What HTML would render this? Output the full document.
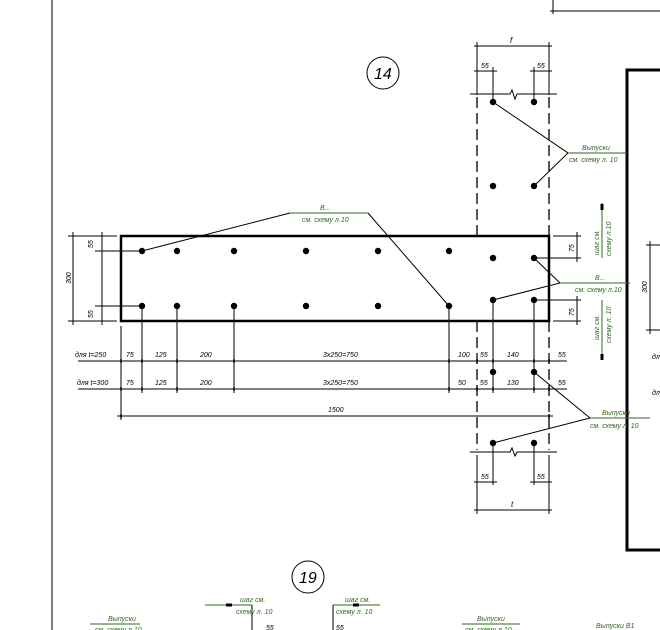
<!DOCTYPE html>
<html><head><meta charset="utf-8"><style>
html,body{margin:0;padding:0;background:#fff;}
svg{display:block;}
text{font-family:"Liberation Sans",sans-serif;font-style:italic;font-size:8px;fill:#000;}
.g{fill:#2e6a1e;}
</style></head><body>
<svg width="660" height="630" viewBox="0 0 660 630" xmlns="http://www.w3.org/2000/svg">
<g stroke="#000" stroke-width="1" fill="none">
<line x1="52" y1="0" x2="52" y2="630"/>
<line x1="553" y1="0" x2="553" y2="14"/>
<line x1="550" y1="11" x2="660" y2="11"/>
<circle cx="383" cy="73" r="16"/>
<circle cx="308" cy="577" r="16"/>
<line x1="474" y1="46" x2="552" y2="46"/>
<line x1="477" y1="42" x2="477" y2="95"/>
<line x1="549" y1="42" x2="549" y2="95"/>
<line x1="474" y1="71" x2="497" y2="71"/>
<line x1="530" y1="71" x2="552" y2="71"/>
<line x1="493" y1="67" x2="493" y2="102"/>
<line x1="534" y1="67" x2="534" y2="102"/>
<polyline points="470,94 510,94 512,90 515,99 517,94 557,94"/>
<polyline points="470,452 510,452 512,448 515,456 517,452 557,452"/>
<line x1="493" y1="443" x2="493" y2="485"/>
<line x1="534" y1="443" x2="534" y2="485"/>
<line x1="474" y1="482" x2="497" y2="482"/>
<line x1="530" y1="482" x2="552" y2="482"/>
<line x1="474" y1="510" x2="552" y2="510"/>
<line x1="477" y1="455" x2="477" y2="514"/>
<line x1="549" y1="455" x2="549" y2="514"/>
</g>
<g stroke="#000" stroke-width="1.3" stroke-dasharray="11,5" fill="none">
<line x1="477" y1="97" x2="477" y2="236"/>
<line x1="549" y1="97" x2="549" y2="236"/>
<line x1="477" y1="321" x2="477" y2="450"/>
<line x1="549" y1="321" x2="549" y2="450"/>
</g>
<polyline points="660,70 627,70 627,550 660,550" stroke="#000" stroke-width="3" fill="none"/>
<rect x="121" y="236" width="428" height="85" stroke="#000" stroke-width="2.5" fill="none"/>
<g fill="#000">
<circle cx="142" cy="251" r="3.2"/><circle cx="177" cy="251" r="3.2"/><circle cx="234" cy="251" r="3.2"/><circle cx="306" cy="251" r="3.2"/><circle cx="378" cy="251" r="3.2"/><circle cx="449" cy="251" r="3.2"/>
<circle cx="493" cy="258" r="3.2"/><circle cx="534" cy="258" r="3.2"/>
<circle cx="142" cy="306" r="3.2"/><circle cx="177" cy="306" r="3.2"/><circle cx="234" cy="306" r="3.2"/><circle cx="306" cy="306" r="3.2"/><circle cx="378" cy="306" r="3.2"/><circle cx="449" cy="306" r="3.2"/>
<circle cx="493" cy="300" r="3.2"/><circle cx="534" cy="300" r="3.2"/>
<circle cx="493" cy="102" r="3.2"/><circle cx="534" cy="102" r="3.2"/><circle cx="493" cy="186" r="3.2"/><circle cx="534" cy="186" r="3.2"/>
<circle cx="493" cy="372" r="3.2"/><circle cx="534" cy="372" r="3.2"/><circle cx="493" cy="443" r="3.2"/><circle cx="534" cy="443" r="3.2"/>
</g>
<g stroke="#000" stroke-width="1" fill="none">
<line x1="73" y1="232" x2="73" y2="325"/>
<line x1="102" y1="232" x2="102" y2="325"/>
<line x1="68" y1="236" x2="117" y2="236"/>
<line x1="68" y1="321" x2="117" y2="321"/>
<line x1="95" y1="251" x2="142" y2="251"/>
<line x1="95" y1="306" x2="142" y2="306"/>
<line x1="78" y1="361" x2="567" y2="361"/>
<line x1="78" y1="389" x2="567" y2="389"/>
<line x1="117" y1="416" x2="553" y2="416"/>
<line x1="121" y1="326" x2="121" y2="420"/>
<line x1="142" y1="306" x2="142" y2="393"/>
<line x1="177" y1="306" x2="177" y2="393"/>
<line x1="234" y1="306" x2="234" y2="393"/>
<line x1="449" y1="306" x2="449" y2="393"/>
<line x1="493" y1="300" x2="493" y2="393"/>
<line x1="534" y1="300" x2="534" y2="393"/>
<line x1="577" y1="232" x2="577" y2="262"/>
<line x1="553" y1="236" x2="581" y2="236"/>
<line x1="534" y1="258" x2="581" y2="258"/>
<line x1="577" y1="296" x2="577" y2="325"/>
<line x1="534" y1="300" x2="581" y2="300"/>
<line x1="553" y1="321" x2="581" y2="321"/>
<line x1="650" y1="241" x2="650" y2="334"/>
<line x1="646" y1="245" x2="660" y2="245"/>
<line x1="646" y1="330" x2="660" y2="330"/>
<polyline points="142,251 290,213"/>
<polyline points="368,213 449,306"/>
<polyline points="534,258 560,283 493,300"/>
<polyline points="493,102 568,153 534,186"/>
<polyline points="534,372 590,418 493,443"/>
</g>
<g stroke="#000" stroke-width="1.5">
<line x1="121" y1="359" x2="121" y2="363"/><line x1="142" y1="359" x2="142" y2="363"/><line x1="177" y1="359" x2="177" y2="363"/><line x1="234" y1="359" x2="234" y2="363"/><line x1="449" y1="359" x2="449" y2="363"/><line x1="477" y1="359" x2="477" y2="363"/><line x1="493" y1="359" x2="493" y2="363"/><line x1="534" y1="359" x2="534" y2="363"/><line x1="549" y1="359" x2="549" y2="363"/>
<line x1="121" y1="387" x2="121" y2="391"/><line x1="142" y1="387" x2="142" y2="391"/><line x1="177" y1="387" x2="177" y2="391"/><line x1="234" y1="387" x2="234" y2="391"/><line x1="449" y1="387" x2="449" y2="391"/><line x1="477" y1="387" x2="477" y2="391"/><line x1="493" y1="387" x2="493" y2="391"/><line x1="534" y1="387" x2="534" y2="391"/><line x1="549" y1="387" x2="549" y2="391"/>
<line x1="121" y1="414" x2="121" y2="418"/><line x1="549" y1="414" x2="549" y2="418"/>
</g>
<g stroke="#2e6a1e" stroke-width="1" fill="none">
<line x1="290" y1="213" x2="368" y2="213"/>
<line x1="560" y1="283" x2="630" y2="283"/>
<line x1="568" y1="153" x2="627" y2="153"/>
<line x1="590" y1="418" x2="650" y2="418"/>
<line x1="602" y1="203" x2="602" y2="258"/>
<line x1="602" y1="300" x2="602" y2="360"/>
<line x1="90" y1="624" x2="140" y2="624"/>
<line x1="205" y1="605" x2="252" y2="605"/>
<line x1="333" y1="605" x2="380" y2="605"/>
<line x1="462" y1="624" x2="520" y2="624"/>
</g>
<g stroke="#000" stroke-width="1" fill="none">
<line x1="252" y1="605" x2="252" y2="630"/>
<line x1="333" y1="605" x2="333" y2="630"/>
</g>
<g stroke="#000" stroke-width="3">
<line x1="602" y1="204" x2="602" y2="210"/>
<line x1="602" y1="354" x2="602" y2="360"/>
<line x1="226" y1="605" x2="232" y2="605"/>
<line x1="353" y1="605" x2="359" y2="605"/>
</g>
<text x="374" y="79" style="font-size:16px;font-weight:300">14</text>
<text x="299" y="583" style="font-size:16px;font-weight:300">19</text>
<text x="510" y="43">f</text>
<text x="481" y="68" style="font-size:7px">55</text>
<text x="537" y="68" style="font-size:7px">55</text>
<text x="481" y="479" style="font-size:7px">55</text>
<text x="537" y="479" style="font-size:7px">55</text>
<text x="511" y="507">t</text>
<text transform="translate(71,284) rotate(-90)" style="font-size:7px">300</text>
<text transform="translate(93,248) rotate(-90)" style="font-size:7px">55</text>
<text transform="translate(93,318) rotate(-90)" style="font-size:7px">55</text>
<text transform="translate(574,252) rotate(-90)" style="font-size:7px">75</text>
<text transform="translate(574,316) rotate(-90)" style="font-size:7px">75</text>
<text transform="translate(647,293) rotate(-90)" style="font-size:7px">300</text>
<text x="75" y="357" style="font-size:7px">для  t=250</text>
<text x="77" y="385" style="font-size:7px">для  t=300</text>
<text x="126" y="357" style="font-size:7px">75</text><text x="155" y="357" style="font-size:7px">125</text><text x="200" y="357" style="font-size:7px">200</text><text x="323" y="357" style="font-size:7px">3x250=750</text><text x="458" y="357" style="font-size:7px">100</text><text x="480" y="357" style="font-size:7px">55</text><text x="507" y="357" style="font-size:7px">140</text><text x="558" y="357" style="font-size:7px">55</text>
<text x="126" y="385" style="font-size:7px">75</text><text x="155" y="385" style="font-size:7px">125</text><text x="200" y="385" style="font-size:7px">200</text><text x="323" y="385" style="font-size:7px">3x250=750</text><text x="458" y="385" style="font-size:7px">50</text><text x="480" y="385" style="font-size:7px">55</text><text x="507" y="385" style="font-size:7px">130</text><text x="558" y="385" style="font-size:7px">55</text>
<text x="328" y="412" style="font-size:7px">1500</text>
<text x="652" y="359" style="font-size:7px">дл</text>
<text x="652" y="395" style="font-size:7px">дл</text>
<text class="g" x="320" y="210" style="font-size:7px">В...</text>
<text class="g" x="302" y="222" style="font-size:7px">см. схему л.10</text>
<text class="g" x="595" y="280" style="font-size:7px">В...</text>
<text class="g" x="575" y="292" style="font-size:7px">см. схему л.10</text>
<text class="g" x="582" y="150" style="font-size:7px">Выпуски</text>
<text class="g" x="569" y="162" style="font-size:7px">см. схему л. 10</text>
<text class="g" x="602" y="415" style="font-size:7px">Выпуски</text>
<text class="g" x="590" y="428" style="font-size:7px">см. схему л. 10</text>
<text class="g" transform="translate(599,255) rotate(-90)" style="font-size:7px">шаг см.</text>
<text class="g" transform="translate(611,256) rotate(-90)" style="font-size:7px">схему л.10</text>
<text class="g" transform="translate(599,340) rotate(-90)" style="font-size:7px">шаг см.</text>
<text class="g" transform="translate(611,343) rotate(-90)" style="font-size:7px">схему л. 10</text>
<text class="g" x="108" y="621" style="font-size:7px">Выпуски</text>
<text class="g" x="95" y="632" style="font-size:7px">см. схему л.10</text>
<text class="g" x="240" y="602" style="font-size:7px">шаг см.</text>
<text class="g" x="236" y="614" style="font-size:7px">схему л. 10</text>
<text class="g" x="345" y="602" style="font-size:7px">шаг см.</text>
<text class="g" x="336" y="614" style="font-size:7px">схему л. 10</text>
<text class="g" x="477" y="621" style="font-size:7px">Выпуски</text>
<text class="g" x="465" y="632" style="font-size:7px">см. схему л.10</text>
<text class="g" x="596" y="628" style="font-size:7px">Выпуски В1</text>
<text x="266" y="630" style="font-size:7px">55</text>
<text x="336" y="630" style="font-size:7px">55</text>
</svg>
</body></html>
